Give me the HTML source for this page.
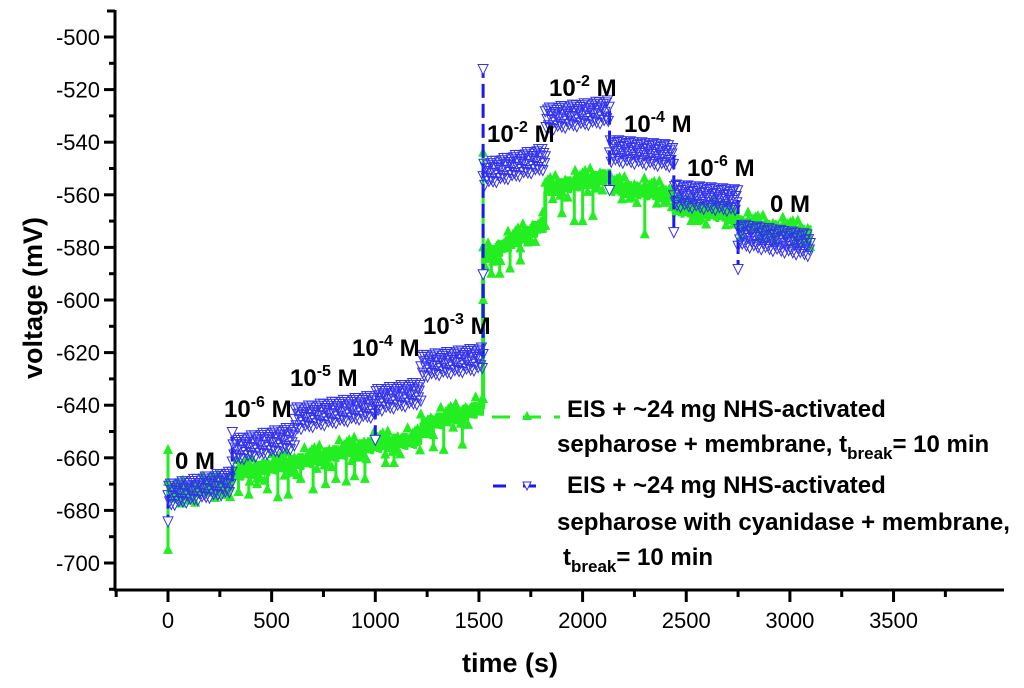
<!DOCTYPE html>
<html><head><meta charset="utf-8"><style>
body{margin:0;background:#fff}
svg{display:block;font-family:"Liberation Sans",Arial,sans-serif}
</style></head><body>
<svg id="chart" width="1024" height="688">
<g id="axes"></g>
<g id="series"></g>
<g id="annot" font-weight="bold" font-size="24">
<text x="175" y="469">0 M</text>
<text x="224" y="417">10<tspan font-size="16" dy="-10">-6</tspan><tspan dy="10"> M</tspan></text>
<text x="290" y="386">10<tspan font-size="16" dy="-10">-5</tspan><tspan dy="10"> M</tspan></text>
<text x="352" y="356">10<tspan font-size="16" dy="-10">-4</tspan><tspan dy="10"> M</tspan></text>
<text x="423" y="334">10<tspan font-size="16" dy="-10">-3</tspan><tspan dy="10"> M</tspan></text>
<text x="487" y="142">10<tspan font-size="16" dy="-10">-2</tspan><tspan dy="10"> M</tspan></text>
<text x="549" y="96">10<tspan font-size="16" dy="-10">-2</tspan><tspan dy="10"> M</tspan></text>
<text x="624" y="132">10<tspan font-size="16" dy="-10">-4</tspan><tspan dy="10"> M</tspan></text>
<text x="687" y="176">10<tspan font-size="16" dy="-10">-6</tspan><tspan dy="10"> M</tspan></text>
<text x="770" y="212">0 M</text>
</g>
<g id="legend" font-weight="bold" font-size="24">
<g>
<line x1="492" y1="417" x2="560" y2="417" stroke="#22ee22" stroke-width="3" stroke-dasharray="18,13"/>
<polygon points="527,411 532,420 522,420" fill="#22ee22"/>
<text x="567" y="417">EIS + ~24 mg NHS-activated</text>
<text x="557" y="452">sepharose + membrane, t<tspan font-size="17" dy="7">break</tspan><tspan dy="-7">= 10 min</tspan></text>
</g>
<g>
<line x1="493" y1="486" x2="550" y2="486" stroke="#1a1aee" stroke-width="3" stroke-dasharray="13,17"/>
<polygon points="523,482 531,482 527,490" fill="#fff" stroke="#3333ee"/>
<text x="567" y="493">EIS + ~24 mg NHS-activated</text>
<text x="557" y="530">sepharose with cyanidase + membrane,</text>
<text x="563" y="565">t<tspan font-size="17" dy="7">break</tspan><tspan dy="-7">= 10 min</tspan></text>
</g>
</g>
</svg>
<script>
const xTicks=[0,500,1000,1500,2000,2500,3000,3500];
const yTicks=[-500,-520,-540,-560,-580,-600,-620,-640,-660,-680,-700];
const segT0=[0,310,610,1000,1220,1520,1820,2130,2440,2750];
const segT1=[310,610,1000,1220,1520,1820,2130,2440,2750,3100];
const blueV0=[-674,-657,-645,-638,-625,-552,-531,-543,-560,-575];
const blueV1=[-669,-652,-640,-635,-622,-546,-528,-545,-562,-579];
const greenV0=[-674,-666,-662,-655,-648,-584,-558,-557,-565,-571];
const greenV1=[-670,-662,-655,-653,-641,-571,-553,-560,-568,-575];
const blueSpikeT=[0,310,1000,1520,1520,2130,2440,2750];
const blueSpikeV=[-684,-650,-653,-512,-590,-558,-574,-588];
const greenSpikeT=[0,0,340,390,430,480,530,580,640,700,760,810,860,900,950,1050,1090,1280,1330,1420,1520,1520,1560,1600,1650,1700,1900,1960,2000,2050,2300,2550];
const greenSpikeV=[-657,-695,-673,-674,-670,-672,-675,-674,-668,-672,-670,-668,-669,-667,-668,-662,-662,-656,-657,-655,-544,-600,-590,-590,-588,-585,-567,-570,-570,-568,-575,-570];
const noise=[0,2.5,-1.8,3,-2.6,1.2,-0.5,2.8,-3,1.6,-1.2,0.6,2.1,-2.2];
const NS='http://www.w3.org/2000/svg';
const X=t=>168+t*0.2073, Y=v=>37+(-500-v)*2.63;
const svg=document.getElementById('chart'),ax=document.getElementById('axes'),se=document.getElementById('series');
function mk(tag,at,p){const e=document.createElementNS(NS,tag);for(const k in at)e.setAttribute(k,at[k]);p.appendChild(e);return e;}
function baseAt(t,v0,v1){let k=segT0.findIndex((a,j)=>t>=a&&t<=segT1[j]);if(k<0)k=0;return v0[k]+(v1[k]-v0[k])*(t-segT0[k])/(segT1[k]-segT0[k]);}
let e;
e=mk('line',{x1:115,y1:10,x2:115,y2:591,stroke:'#000','stroke-width':3},ax);


e=mk('line',{x1:114,y1:590,x2:1004,y2:590,stroke:'#000','stroke-width':3},ax);


mk('line',{x1:107,y1:11,x2:115,y2:11,stroke:'#000','stroke-width':3},ax);
yTicks.forEach(v=>{
 mk('line',{x1:104,y1:Y(v),x2:115,y2:Y(v),stroke:'#000','stroke-width':3},ax);
 mk('line',{x1:109,y1:Y(v-10),x2:115,y2:Y(v-10),stroke:'#000','stroke-width':3},ax);
 e=mk('text',{x:100,y:Y(v)+8,'text-anchor':'end','font-size':22},ax);e.textContent=v;
 
 
});
xTicks.forEach(t=>{
 mk('line',{x1:X(t),y1:590,x2:X(t),y2:602,stroke:'#000','stroke-width':3},ax);
 mk('line',{x1:X(t-250),y1:590,x2:X(t-250),y2:597,stroke:'#000','stroke-width':3},ax);
 e=mk('text',{x:X(t),y:628,'text-anchor':'middle','font-size':22},ax);e.textContent=t;
 
 
});
mk('line',{x1:X(3750),y1:590,x2:X(3750),y2:597,stroke:'#000','stroke-width':3},ax);
e=mk('text',{x:510,y:672,'text-anchor':'middle','font-size':27,'font-weight':'bold'},ax);e.textContent='time (s)';


e=mk('text',{x:0,y:0,'text-anchor':'middle','font-size':27,'font-weight':'bold',transform:'translate(42,298) rotate(-90)'},ax);e.textContent='voltage (mV)';


// green series
const gG=mk('g',{},se);


greenSpikeT.forEach((t,i)=>{
 const base=baseAt(t,greenV0,greenV1);
 const x=X(t),y=Y(greenSpikeV[i]);
 mk('line',{x1:x,y1:Y(base),x2:x,y2:y,stroke:'#22ee22','stroke-width':3},gG);
 mk('polygon',{points:`${x},${y-6} ${x+5},${y+4} ${x-5},${y+4}`,fill:'#22ee22'},gG);
});
let pts=[],c=0;
segT0.forEach((a,i)=>{for(let t=a;t<=segT1[i];t+=3){const v=greenV0[i]+(greenV1[i]-greenV0[i])*(t-a)/(segT1[i]-a)+noise[c++%noise.length]*1.1;pts.push(X(t)+','+Y(v));}});
mk('polyline',{points:pts.join(' '),fill:'none',stroke:'#22ee22','stroke-width':4},gG);
c=0;
segT0.forEach((a,i)=>{for(let t=a;t<=segT1[i];t+=12){const v=greenV0[i]+(greenV1[i]-greenV0[i])*(t-a)/(segT1[i]-a)+noise[(c+=3)%noise.length]*1.6;const x=X(t),y=Y(v);
 mk('polygon',{points:`${x},${y-6} ${x+5},${y+4} ${x-5},${y+4}`,fill:'#22ee22'},gG);}});
// blue series
const gB=mk('g',{},se);


blueSpikeT.forEach((t,i)=>{
 const base=baseAt(t,blueV0,blueV1);
 const x=X(t),y=Y(blueSpikeV[i]);
 mk('line',{x1:x,y1:Y(base),x2:x,y2:y,stroke:'#1a1aee','stroke-width':3,'stroke-dasharray':'14,6'},gB);
 mk('polygon',{points:`${x-5},${y-4} ${x+5},${y-4} ${x},${y+6}`,fill:'#fff',stroke:'#3333ee','stroke-width':1},gB);
});
c=0;
segT0.forEach((a,i)=>{for(let t=a;t<=segT1[i];t+=4){const v=blueV0[i]+(blueV1[i]-blueV0[i])*(t-a)/(segT1[i]-a)+noise[c++%noise.length]*1.4;const x=X(t),y=Y(v);
 mk('polygon',{points:`${x-5},${y-4} ${x+5},${y-4} ${x},${y+6}`,fill:'none',stroke:'#3333ee','stroke-width':1},gB);}});
</script>
</body></html>
